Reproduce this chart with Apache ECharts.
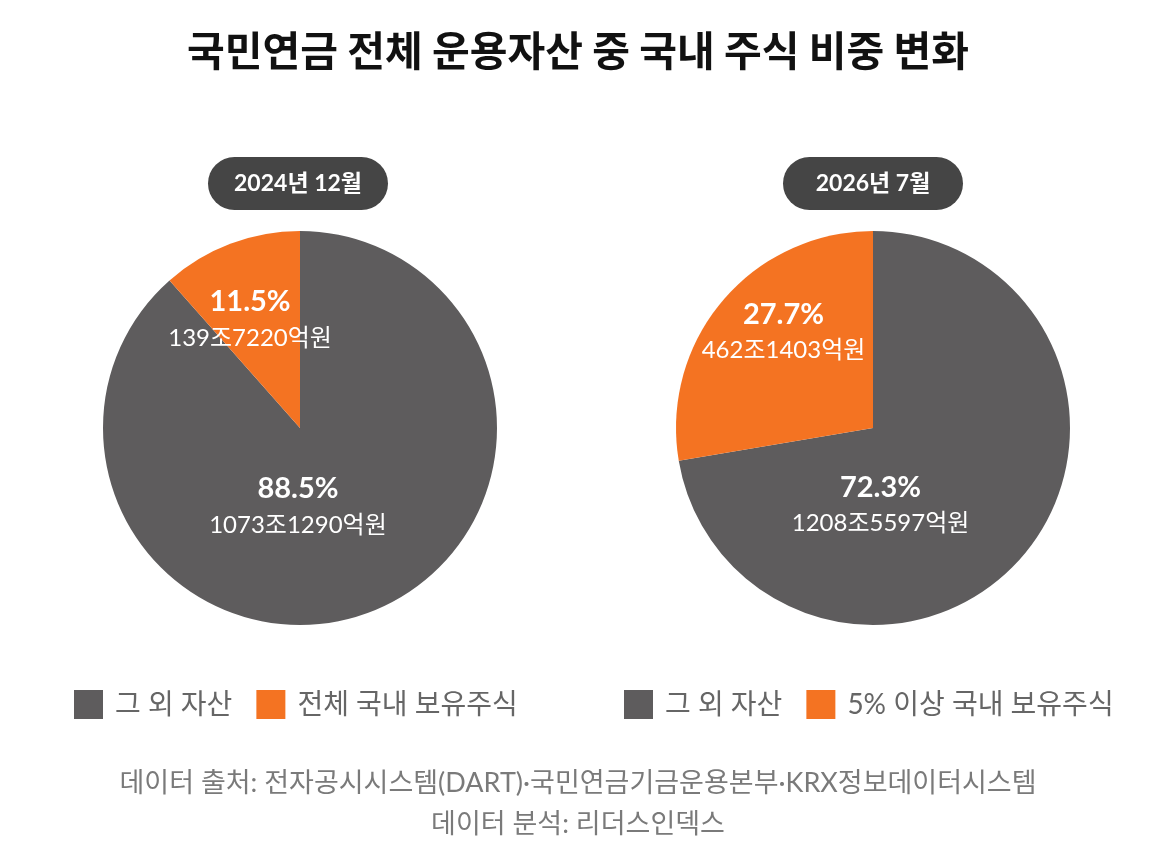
<!DOCTYPE html>
<html>

<head>
    <meta charset="UTF-8">
    <title>국민연금 전체 운용자산 중 국내 주식 비중 변화</title>
    <style>
        html, body { margin: 0; padding: 0; background: #fff; }
        #container { width: 1156px; height: 864px; }
    </style>
</head>

<body>
    <div id="container"></div>
    <script src="https://cdn.jsdelivr.net/npm/echarts@6/dist/echarts.min.js"></script>
    <script>
        // 금액 단위: 억원
        var periods = ['2024년 12월', '2026년 7월'];
        var otherName = '그 외 자산';
        var stockNames = ['전체 국내 보유주식', '5% 이상 국내 보유주식'];
        var otherValues = [10731290, 12085597];
        var stockValues = [1397220, 4621403];

        var GRAY = '#5e5c5d';
        var ORANGE = '#f47322';
        var FONT = 'Lato, "Noto Sans CJK KR", sans-serif';

        var centers = [[300, 428], [873, 428]];
        // 라벨 위치 보정 [그 외, 주식]
        var labelShift = [
            [[-38, -16], [-14, -13]],
            [[-70, 12], [-12, -30]]
        ];
        var legendLeft = [74, 624];
        var pillLeft = [208, 783];

        function fmtAmount(v) {
            return Math.floor(v / 10000) + '조' + (v % 10000) + '억원';
        }

        var series = [], legends = [], graphics = [];
        periods.forEach(function (p, i) {
            series.push({
                type: 'pie',
                center: centers[i],
                radius: 197,
                startAngle: 90,
                clockwise: true,
                percentPrecision: 1,
                silent: true,
                legendHoverLink: false,
                label: {
                    show: true,
                    position: 'inside',
                    color: '#fff',
                    formatter: function (prm) {
                        return '{p|' + prm.percent.toFixed(1) + '%}\n{v|' + fmtAmount(prm.value) + '}';
                    },
                    rich: {
                        p: { fontFamily: FONT, fontSize: 29, fontWeight: 'bold', color: '#fff', lineHeight: 36, align: 'center' },
                        v: { fontFamily: FONT, fontSize: 24, color: '#fff', lineHeight: 36, align: 'center' }
                    }
                },
                labelLine: { show: false },
                labelLayout: function (prm) {
                    var s = labelShift[i][prm.dataIndex];
                    return { dx: s[0], dy: s[1] };
                },
                itemStyle: { borderWidth: 0 },
                data: [
                    { name: otherName, value: otherValues[i], itemStyle: { color: GRAY } },
                    { name: stockNames[i], value: stockValues[i], itemStyle: { color: ORANGE } }
                ]
            });
            legends.push({
                left: legendLeft[i],
                top: 690,
                padding: 0,
                icon: 'rect',
                itemWidth: 29,
                itemHeight: 29,
                itemGap: 24,
                selectedMode: false,
                data: [otherName, stockNames[i]],
                textStyle: { fontFamily: FONT, fontSize: 28, color: '#666', padding: [0, 0, 0, 7] }
            });
            graphics.push({
                type: 'group',
                left: pillLeft[i],
                top: 157,
                children: [
                    {
                        type: 'rect',
                        shape: { x: 0, y: 0, width: 180, height: 53, r: 26.5 },
                        style: { fill: '#454545' }
                    },
                    {
                        type: 'text',
                        style: {
                            text: p,
                            x: 90,
                            y: 27,
                            align: 'center',
                            verticalAlign: 'middle',
                            textAlign: 'center',
                            textVerticalAlign: 'middle',
                            fill: '#fff',
                            font: 'bold 23px ' + FONT
                        }
                    }
                ]
            });
        });

        var myChart = echarts.init(document.getElementById('container'));
        myChart.setOption({
            backgroundColor: '#fff',
            animation: false,
            title: [
                {
                    text: '국민연금 전체 운용자산 중 국내 주식 비중 변화',
                    left: 'center',
                    top: 30,
                    padding: 0,
                    textStyle: { fontFamily: '"Noto Sans CJK KR", sans-serif', fontSize: 41, fontWeight: 'bold', color: '#111' }
                },
                {
                    text: '데이터 출처: 전자공시시스템(DART)·국민연금기금운용본부·KRX정보데이터시스템',
                    left: 'center',
                    top: 770,
                    padding: 0,
                    textStyle: { fontFamily: FONT, fontSize: 27, fontWeight: 'normal', color: '#7a7a7a' }
                },
                {
                    text: '데이터 분석: 리더스인덱스',
                    left: 'center',
                    top: 811,
                    padding: 0,
                    textStyle: { fontFamily: FONT, fontSize: 27, fontWeight: 'normal', color: '#7a7a7a' }
                }
            ],
            legend: legends,
            graphic: graphics,
            series: series
        });
    </script>
</body>

</html>
